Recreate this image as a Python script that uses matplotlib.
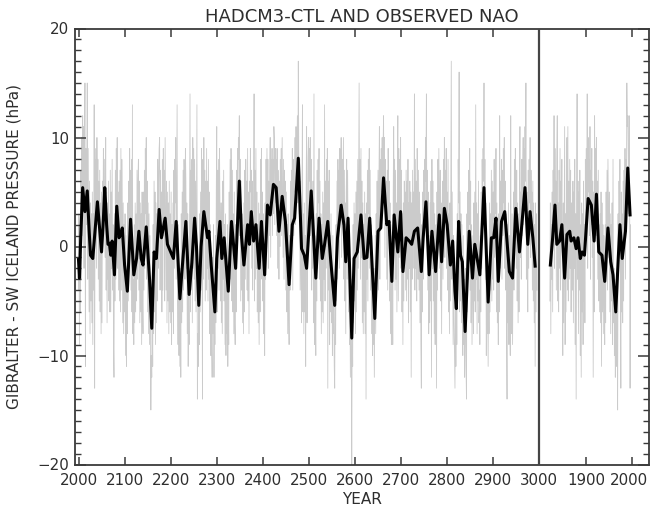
import numpy as np
import matplotlib
matplotlib.use("Agg")
import matplotlib.pyplot as plt
import matplotlib.transforms as mtransforms
from matplotlib.ticker import MultipleLocator, NullLocator

# ---------------- data ----------------
MODEL_START = 2000
model_annual = [
    -4, 3, -9, 2, -6, 7, -3, 10, 1, 12,
    4, 11, -2, 8, 15, -11, 9, 2, 7, 15,
    -3, 9, 1, -6, 6, -8, 4, -5, 3, -7,
    5, -9, 3, -4, 13, -13, 8, 1, 9, -2,
    10, 2, 8, -3, 6, -5, 7, -6, 4, -8,
    5, -7, 6, 1, 9, 3, 8, 2, -1, 10,
    -4, 5, -7, 4, -3, 6, -5, 3, -6, 7,
    -6, 5, -2, 8, -4, 2, -9, -12, 3, -5,
    7, -3, 9, 4, 10, -2, 5, -4, 6, -5,
    7, -6, 9, -4, 8, 3, -7, 4, -8, 2,
    -6, 3, -10, 1, -11, -3, -8, 4, -5, 6,
    -2, 9, 1, 7, -4, 8, -6, 13, -8, -3,
    -9, 2, -7, 4, -6, 3, -5, 7, -3, 6,
    8, -4, 6, -7, 4, -6, 3, -9, 5, -5,
    -8, 5, -4, 7, -2, 9, 3, 10, -3, 6,
    -6, 4, -8, 3, -9, 1, -7, -15, -10, -12,
    -3, -11, 2, -8, 6, -6, 5, -9, 4, -7,
    3, -5, 8, -2, 6, 9, 10, -4, 7, -3,
    5, -6, 8, -4, 9, 1, 7, -5, 10, 3,
    -4, 6, -7, 5, -5, 4, -8, 6, -6, 3,
    -7, 5, -9, 2, -6, 4, -8, 7, -2, 8,
    4, 10, -3, 6, 13, -4, -9, 2, -10, -3,
    -11, -2, -12, 3, -7, 5, -6, 7, -4, 8,
    5, -3, 9, 6, -2, 4, -8, 3, -11, -4,
    -9, 2, 14, -6, 7, -4, 8, -7, 10, -2,
    9, -3, 8, -5, 6, -6, 4, 13, -14, -8,
    -11, -2, -9, 3, -6, 5, -4, 9, 1, -14,
    8, -3, 10, 2, 7, -5, 6, -4, 9, -2,
    6, -5, 8, -3, 5, -8, 2, -10, -1, -9,
    -12, -1, -8, 2, -12, -4, -9, 1, -7, 5,
    11, -6, 7, -2, 8, -4, 9, 3, -5, 4,
    -7, 4, -8, 6, -3, 7, -5, 2, -9, 3,
    -10, -1, -8, 2, -11, -4, -9, 5, -2, 8,
    -3, 9, 4, -5, 7, -6, 3, -8, 5, -7,
    -9, 2, -6, 7, 1, 9, 4, 10, 8, 12,
    1, 8, -5, 6, -4, 3, -7, 2, -8, 4,
    -6, 7, -3, 8, 0, 6, -4, 9, -5, 5,
    -8, 6, 1, 9, 5, 7, -2, 6, -4, 3,
    4, 14, -5, 7, -3, 9, -2, 5, -6, 2,
    -7, 4, -9, 3, -6, 8, 1, 9, -3, 5,
    -5, 3, -8, -1, -10, 4, -3, 8, 1, 9,
    2, 8, -2, 6, 1, 7, 10, -1, 8, 3,
    9, 1, 8, 3, 11, 10, 2, 9, 4, 8,
    1, 9, -2, 7, 4, -3, 6, 0, 8, 3,
    9, 1, 10, 5, -1, 8, -3, 7, 2, 6,
    -4, 5, -6, 2, -8, 3, -5, -9, 1, -4,
    6, -3, 7, 0, 9, -4, 8, 1, 6, 5,
    10, 2, 11, 6, 9, 12, 4, 17, 9, 3,
    8, -4, 6, -2, -7, 5, 13, -6, 3, -8,
    4, -6, 1, -11, 5, 11, -7, 2, 8, 10,
    3, 9, 6, 10, 1, 8, -4, 5, -2, 6,
    -7, 14, -9, 1, -6, -10, 3, -5, 7, -2,
    8, 4, 9, -3, 6, -5, 3, -8, 2, -6,
    5, -7, 4, -3, 13, -5, 6, -2, 8, 0,
    9, -13, 6, -4, 7, -9, 1, -6, 3, -7,
    -2, -10, 1, -8, -4, -11, -13, -3, -9, 2,
    -5, 6, -3, 8, 1, 7, -2, 9, 4, 6,
    10, -1, 8, 2, 6, 10, -3, 7, -5, 4,
    -8, 5, 8, -3, 7, 1, -6, 2, -9, -4,
    -12, -3, -10, -20, -6, -11, 2, -7, 4, -5,
    3, -8, 5, -6, 6, -4, 8, -2, 7, 15,
    1, 8, -3, 9, -1, 6, -7, 4, -8, 2,
    -6, 5, -8, 3, -14, 4, -3, 7, -5, 8,
    3, 9, -2, 7, -4, 2, -8, 1, -10, -3,
    -9, -2, -12, -6, 1, -8, 3, -5, 6, -2,
    7, -4, 6, 11, -3, 8, 2, 9, 5, 10,
    3, 9, 12, 4, 10, -1, 8, 2, 6, -3,
    7, -4, 9, 1, 6, -5, 4, -8, 2, -9,
    -7, 1, -9, 5, 11, 3, 8, -4, 7, -3,
    4, -6, 6, 12, -5, 9, -1, 8, 3, 10,
    -2, 7, -6, 3, -9, 4, -5, 6, -2, 5,
    -4, 7, -5, 6, -3, 8, -7, 4, -2, 6,
    -6, 5, -12, 4, -3, 7, -2, 5, 1, 14,
    -4, 8, -2, 6, -5, 9, 1, -3, 7, -4,
    5, -7, 3, -9, -13, 2, -6, 5, -3, 7,
    1, 8, 3, 10, 6, 14, 2, 7, -4, 5,
    -8, 1, -7, 4, -5, 6, -12, 8, -2, 6,
    -5, 4, -8, 3, -9, -2, 2, -13, 5, -4,
    8, 1, 9, 3, -2, 7, -5, 4, -8, 3,
    6, -3, 8, 2, 10, -1, 7, 3, 9, -2,
    5, -4, 8, -6, 3, -8, 4, -5, 6, 17,
    -3, 5, -2, -9, 1, -7, -10, -13, -4, -11,
    -1, -9, 3, -4, 8, 4, 16, -6, 5, -5,
    3, -7, 2, -6, -10, 1, -9, -3, -12, -8,
    -2, -11, -14, 3, -6, 5, -3, 7, 2, 9,
    -4, 6, -7, 2, -9, -4, 1, -8, 4, -5,
    5, -6, 13, -3, 4, -8, 3, -5, 6, -7,
    -4, -9, 1, -6, 5, -2, 8, 3, 9, 6,
    15, 2, 8, -3, 4, -10, -1, -8, -3, -11,
    -2, -8, 4, -6, 3, -4, 7, -5, 6, -3,
    5, -4, 8, -1, 7, 3, 9, -6, 4, -7,
    -1, -9, 3, -6, 12, -2, 6, 1, 8, -3,
    7, 1, 9, 4, 10, -2, 6, -4, 3, -8,
    -14, 2, -7, 4, -9, 1, -6, -10, 12, -5,
    -8, 3, -9, -2, 5, -4, 8, 1, 9, 6,
    -2, 7, -5, 4, -7, 3, -6, 6, 11, -1,
    5, -3, 8, 1, 7, 10, 2, 9, 4, 11,
    6, 15, -3, 5, 2, -6, 7, -2, 8, 4,
    10, -1, 7, 3, 5, -4, 6, -5, 4, -7,
    2, -11, 4, -6, 3, -4,
]

model_smooth_years = [
    2000, 2002, 2005, 2009, 2014, 2019, 2023, 2026, 2031, 2036, 2041, 2046,
    2050, 2054, 2057, 2061, 2064, 2067, 2070, 2073, 2078, 2083, 2088, 2092,
    2095, 2100, 2106, 2113, 2120, 2126, 2131, 2136, 2140, 2142, 2147, 2154,
    2159, 2164, 2169, 2175, 2180, 2188, 2193, 2200, 2206, 2212, 2220, 2225,
    2233, 2240, 2246, 2252, 2256, 2261, 2266, 2272, 2280, 2283, 2288, 2296,
    2300, 2307, 2311, 2316, 2325, 2332, 2341, 2349, 2354, 2359, 2367, 2371,
    2375, 2380, 2385, 2392, 2397, 2404, 2410, 2416, 2423, 2429, 2435, 2442,
    2449, 2457, 2464, 2469, 2477, 2484, 2490, 2495, 2505, 2515, 2522, 2529,
    2534, 2541, 2547, 2556, 2562, 2570, 2576, 2580, 2585, 2593, 2598, 2605,
    2613, 2620, 2626, 2632, 2643, 2650, 2656, 2662, 2669, 2674, 2680, 2685,
    2693, 2699, 2704, 2711, 2718, 2723, 2729, 2736, 2744, 2748, 2754, 2761,
    2767, 2775, 2783, 2788, 2794, 2800, 2807, 2812, 2817, 2820, 2825, 2829,
    2833, 2839, 2848, 2855, 2860, 2865, 2871, 2880, 2889, 2896, 2901, 2906,
    2911, 2918, 2925, 2935, 2942, 2949, 2957, 2962, 2969, 2975, 2980, 2986,
    2991,
]
model_smooth_vals = [
    -1.2, -2.9, 1.0, 5.4, 3.2, 5.1, 1.5, -0.8, -1.1, 1.5, 4.1, 1.5,
    -0.5, 2.5, 5.4, 2.0, 0.2, 0.3, -0.8, 0.5, -2.6, 3.7, 0.8, 1.2,
    1.7, -1.7, -4.1, 2.5, -2.6, -1.1, 1.4, -1.1, -1.7, -0.8, 1.8, -2.9,
    -7.5, -0.5, -1.1, 3.4, 0.8, 2.6, 0.2, -0.5, -1.1, 2.3, -4.8, -2.0,
    2.3, -4.4, -1.5, 2.6, 0.0, -5.4, 0.0, 3.2, 0.8, 1.4, -1.7, -6.0,
    -1.1, 2.3, -1.1, 0.8, -4.1, 2.3, -2.0, 6.0, 0.8, -1.7, 2.0, 0.2,
    3.2, 0.5, 2.0, -2.0, 2.3, -2.6, 3.8, 2.9, 5.7, 5.4, 1.4, 4.6,
    2.3, -3.5, 2.0, 2.6, 8.1, -0.2, -0.8, -2.0, 5.1, -2.9, 2.6, -1.1,
    0.2, 2.3, -1.1, -5.4, 0.8, 3.8, 2.0, -1.4, 2.6, -8.4, -1.1, -0.5,
    2.9, -1.1, -1.0, 2.6, -6.6, 1.4, 1.7, 6.3, 2.0, 2.3, -3.2, 2.9,
    -0.5, 3.2, -2.3, 0.8, 0.5, 0.2, 1.4, 1.7, -2.3, 0.8, 4.1, -2.6,
    1.4, -2.3, 2.9, -1.4, 3.5, 2.0, -1.7, 0.5, -4.1, -5.7, 2.3, -0.8,
    -1.4, -7.8, 1.4, -2.9, 0.2, -1.1, -2.6, 5.4, -5.1, 0.8, 0.8, 2.6,
    -3.2, 2.3, 3.2, -2.3, -2.9, 3.5, -0.5, 2.0, 5.4, 0.2, 3.2, 0.8,
    -1.8,
]

OBS_START = 1821
obs_annual = [
    -5, 4, -8, 2, -3, 5, -6, 7, 1,
    12, -2, 9, 3, 6, -4, 8, 12, -5, 4,
    -6, 7, -2, 9, -4, 6, 1, 8, -3, -10,
    4, -7, 2, 11, -9, 3, -6, 5, 10, -4,
    11, -5, 6, -3, 8, -2, 7, -6, 4, 1,
    -4, 6, -7, 5, -2, 8, -9, 3, -14, 4,
    14, -3, 6, -8, 5, -4, 7, -10, 2, -12,
    4, -6, 3, -9, 6, -5, 2, -7, 8, 1,
    9, 3, 14, -2, 10, 5, 8, 1, 11, -3,
    7, 2, 9, -1, 6, -12, 5, -6, 12, 3,
    9, 4, 10, 1, 6, -3, 7, -5, 2, -6,
    3, -7, 5, -11, 4, -6, 2, -8, 1, -5,
    -9, 2, -7, 5, -2, 7, -4, 8, 3, -1,
    5, -6, 3, -8, 2, -5, 4, -9, 8, -7,
    -2, -10, -4, -12, -8, -3, -11, -6, -15, 3,
    -3, 6, 1, 8, -4, -13, 5, -6, 3, -7,
    6, -5, 7, 2, 9, -3, 8, 4, 15, 11,
    12, 8, 3, 12, 6, -13, 2,
]

obs_smooth_years = [
    1822, 1827, 1832, 1836, 1842, 1847, 1853, 1858, 1864, 1867, 1873, 1878,
    1882, 1887, 1891, 1896, 1904, 1911, 1917, 1922, 1927, 1934, 1940, 1947,
    1953, 1958, 1964, 1969, 1973, 1978, 1985, 1990, 1995,
]
obs_smooth_vals = [
    -1.7, 0.8, 3.8, 0.2, 0.5, 2.0, -2.9, 1.1, 1.4, 0.5, 0.8, -0.2,
    0.8, -1.1, -0.5, -0.8, 4.4, 3.8, 0.5, 4.8, -0.5, -0.8, -3.2, 1.7,
    -1.4, -2.6, -6.0, -1.4, 2.0, -1.1, 1.4, 7.2, 2.9,
]

x_tick_pos_model = [2000, 2100, 2200, 2300, 2400, 2500, 2600, 2700, 2800, 2900, 3000]
x_tick_obs_years = [1900, 2000]
y_ticks = [-20, -10, 0, 10, 20]

TITLE = "HADCM3-CTL AND OBSERVED NAO"
YLABEL = "GIBRALTER - SW ICELAND PRESSURE (hPa)"
XLABEL = "YEAR"

# ---------------- layout ----------------
OBS_OFFSET = 1202          # observed years drawn to the right of the model run
DIVIDER = 3000
W, H = 650, 508
TXT = "#2e2e2e"
GRAY = "#cbcbcb"

plt.rcParams["font.family"] = ["DejaVu Sans"]

fig = plt.figure(figsize=(W / 100, H / 100), dpi=100)
L, R, T, B = 74.5, 648.5, 28.5, 464.5
ax = fig.add_axes([L / W, 1 - B / H, (R - L) / W, (B - T) / H])

model_years = MODEL_START + np.arange(len(model_annual))
obs_years = OBS_START + np.arange(len(obs_annual))

ax.plot(model_years, model_annual, color=GRAY, lw=0.6, zorder=1)
ax.plot(obs_years + OBS_OFFSET, obs_annual, color=GRAY, lw=0.6, zorder=1)
ax.plot(model_smooth_years, model_smooth_vals, color="black", lw=2.2, zorder=3)
ax.plot(np.array(obs_smooth_years) + OBS_OFFSET, obs_smooth_vals, color="black", lw=2.2, zorder=3)
ax.axvline(DIVIDER, color="#454545", lw=1.6, zorder=4)

ax.set_xlim(1991.3, 3237)
ax.set_ylim(-20, 20)

xt = x_tick_pos_model + [y + OBS_OFFSET for y in x_tick_obs_years]
xl = [str(v) for v in x_tick_pos_model] + [str(v) for v in x_tick_obs_years]
ax.set_xticks(xt)
ax.set_xticklabels(xl)
ax.set_yticks(y_ticks)
ax.yaxis.set_minor_locator(MultipleLocator(1))
ax.xaxis.set_minor_locator(NullLocator())

ax.tick_params(axis="both", which="both", direction="in", top=True, right=True,
               colors="#3a3a3a", labelcolor=TXT, labelsize=10.8)
ax.tick_params(axis="x", which="major", length=6, width=1.1, pad=6)
ax.tick_params(axis="y", which="major", length=8, width=1.1, pad=4)
ax.tick_params(axis="y", which="minor", length=4, width=1.0)

# keep the last x tick label inside the figure
last = ax.get_xticklabels()[-1]
last.set_transform(last.get_transform() +
                   mtransforms.ScaledTranslation(-3 / 100, 0, fig.dpi_scale_trans))

for s in ax.spines.values():
    s.set_color("#3a3a3a")
    s.set_linewidth(1.3)

ax.set_title(TITLE, fontsize=13, color=TXT, pad=5)
ax.set_ylabel(YLABEL, fontsize=11, color=TXT)
ax.yaxis.set_label_coords(-0.092, 0.5)
ax.set_xlabel(XLABEL, fontsize=11, color=TXT)
ax.xaxis.set_label_coords(0.5, -0.062)

fig.savefig("out.png", dpi=100)
